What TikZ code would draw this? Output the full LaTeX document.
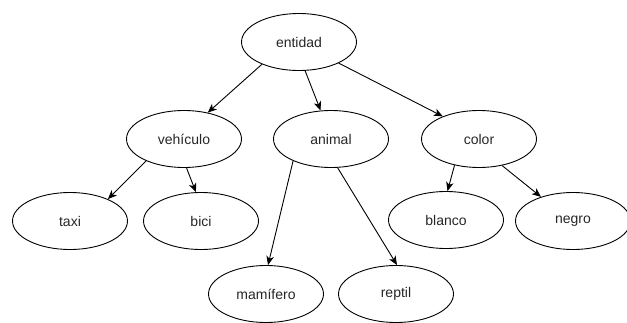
\documentclass[tikz,border=0pt]{standalone}
\usepackage{fontspec}
\setmainfont{Liberation Sans}
\usetikzlibrary{shapes.geometric,arrows.meta}
\tikzset{
  ent/.style={draw=black, line width=0.9pt, ellipse, minimum width=115pt, minimum height=57pt, inner sep=0pt, font=\fontsize{14}{16}\selectfont, text=black!85},
  conn/.style={draw=black, line width=0.9pt, -{Stealth[length=9pt,width=7.5pt,inset=2.5pt]}}
}
\begin{document}
\begin{tikzpicture}[x=1pt,y=-1pt]
\useasboundingbox (0,0) rectangle (627,322);
\clip (0,0) rectangle (627,322);
\node[ent] (entidad) at (299,42) {entidad};
\node[ent] (vehiculo) at (184,139) {vehículo};
\node[ent] (animal) at (331,139) {animal};
\node[ent] (color) at (479,139) {color};
\node[ent] (taxi) at (70,221) {taxi};
\node[ent] (bici) at (201,221) {bici};
\node[ent] (blanco) at (446,220) {blanco};
\node[ent] (negro) at (573,221) {negro};
\node[ent] (mamifero) at (266,294) {mamífero};
\node[ent] (reptil) at (396,294) {reptil};
\draw[conn] (entidad.211) -- (vehiculo.48);
\draw[conn] (entidad.282) -- (animal.110);
\draw[conn] (entidad.332) -- (color.148);
\draw[conn] (vehiculo.210) -- (taxi.30);
\draw[conn] (vehiculo.275) -- (bici.100);
\draw[conn] (animal.210) -- (mamifero.86);
\draw[conn] (animal.283) -- (reptil.88);
\draw[conn] (color.227) -- (blanco.87);
\draw[conn] (color.311) -- (negro.143);
\end{tikzpicture}
\end{document}
